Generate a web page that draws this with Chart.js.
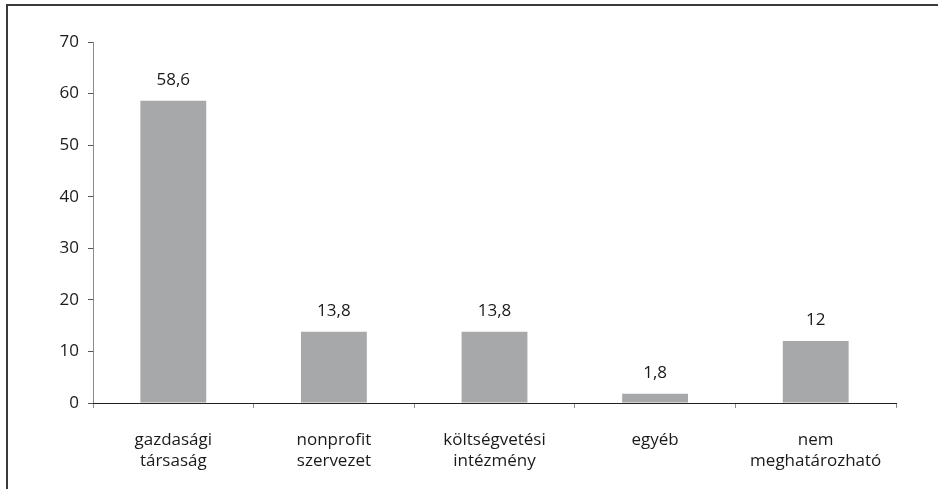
<!DOCTYPE html>
<html>
<head>
<meta charset="utf-8">
<script src="https://cdn.jsdelivr.net/npm/chart.js@4"></script>
<style>
  html, body { margin: 0; padding: 0; background: #fff; }
  #wrap { position: relative; width: 938px; height: 489px; }
  #frame {
    position: absolute; left: 6px; top: 4px; right: 0; bottom: 0;
    border-top: 2px solid #3a3a3a; border-left: 2px solid #3a3a3a;
    pointer-events: none;
  }
  canvas { position: absolute; left: 0; top: 0; }
</style>
</head>
<body>
<div id="wrap">
  <canvas id="chart" width="938" height="489"></canvas>
  <div id="frame"></div>
</div>
<script>
// categories and values
const categories = [
  ['gazdasági', 'társaság'],
  ['nonprofit', 'szervezet'],
  ['költségvetési', 'intézmény'],
  ['egyéb'],
  ['nem', 'meghatározható']
];
const values = [58.6, 13.8, 13.8, 1.8, 12];
const yTicks = [0, 10, 20, 30, 40, 50, 60, 70];

const FONT = '"Open Sans", "Noto Sans", sans-serif';

// value labels above the bars, with decimal comma
const valueLabels = {
  id: 'valueLabels',
  afterDatasetsDraw(chart) {
    const ctx = chart.ctx;
    const meta = chart.getDatasetMeta(0);
    ctx.save();
    ctx.font = '17px ' + FONT;
    ctx.fillStyle = '#1a1a1a';
    ctx.textAlign = 'center';
    ctx.textBaseline = 'alphabetic';
    meta.data.forEach((bar, i) => {
      const txt = String(values[i]).replace('.', ',');
      ctx.fillText(txt, bar.x, bar.y - 16);
    });
    ctx.restore();
  }
};

new Chart(document.getElementById('chart').getContext('2d'), {
  type: 'bar',
  data: {
    labels: categories,
    datasets: [{
      data: values,
      backgroundColor: '#a7a8aa',
      borderWidth: 0,
      barPercentage: 0.82,
      categoryPercentage: 0.5
    }]
  },
  options: {
    responsive: false,
    animation: false,
    layout: { padding: { top: 42, right: 42, left: 0, bottom: 0 } },
    plugins: {
      legend: { display: false },
      tooltip: { enabled: false }
    },
    scales: {
      y: {
        min: 0,
        max: 70,
        afterBuildTicks: (scale) => { scale.ticks = yTicks.map(v => ({ value: v })); },
        afterFit: (scale) => { scale.width = 93; },
        border: { color: '#8a8a8a', width: 1 },
        grid: { drawOnChartArea: false, color: '#555', tickLength: 5 },
        ticks: { color: '#1a1a1a', padding: 9, font: { family: FONT, size: 17 } }
      },
      x: {
        afterFit: (scale) => { scale.height = 86; },
        border: { color: '#222', width: 1 },
        grid: { drawOnChartArea: false, color: '#8a8a8a', tickLength: 5, offset: true },
        ticks: {
          color: '#1a1a1a',
          padding: 22,
          maxRotation: 0,
          font: { family: FONT, size: 17, lineHeight: 1.22 }
        }
      }
    }
  },
  plugins: [valueLabels]
});
</script>
</body>
</html>
